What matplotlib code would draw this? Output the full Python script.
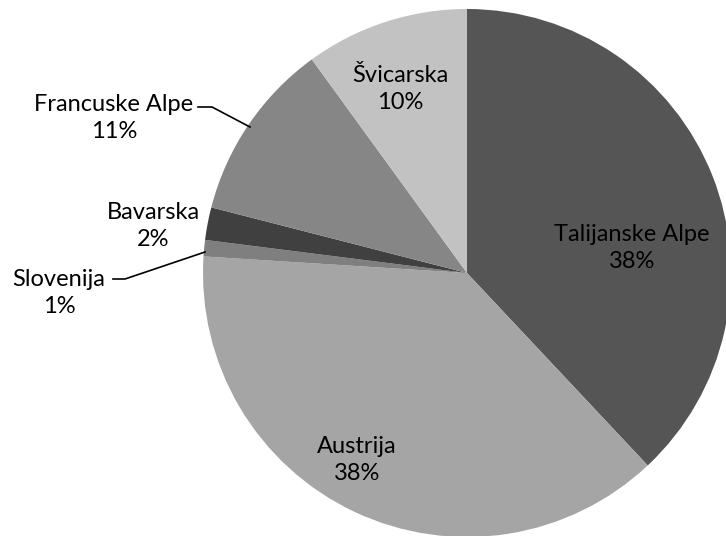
import matplotlib.pyplot as plt

# podaci
kategorije = ["Talijanske Alpe", "Austrija", "Slovenija", "Bavarska", "Francuske Alpe", "Švicarska"]
udjeli = [38, 38, 1, 2, 11, 10]
boje = ["#555555", "#a5a5a5", "#7f7f7f", "#404040", "#868686", "#c2c2c2"]

W, H = 726, 536
cx, cy, r = 467, 273, 264

plt.rcParams['font.family'] = ['Lato', 'DejaVu Sans']

fig = plt.figure(figsize=(W / 100, H / 100), dpi=100)
ax = fig.add_axes([(cx - r) / W, (H - cy - r) / H, 2 * r / W, 2 * r / H])
ax.pie(udjeli, colors=boje, startangle=90, counterclock=False, radius=1,
       wedgeprops=dict(linewidth=0))
ax.set_xlim(-1, 1)
ax.set_ylim(-1, 1)
ax.set_aspect('equal')
ax.axis('off')


def px(x, y):
    # piksel slike -> koordinate osi
    return (x - cx) / r, (cy - y) / r


# pozicije oznaka u pikselima
pozicije = [(632, 248), (357, 460), (59, 293), (153, 226), (114, 118), (400, 89)]
for ime, u, (x, y) in zip(kategorije, udjeli, pozicije):
    ax.text(*px(x, y), f"{ime}\n{u}%", ha='center', va='center',
            fontsize=17, color='black', linespacing=1.38)

# linije vodilice
for pts in [[(198, 107), (212, 107), (250, 127)],
            [(113, 279), (125, 279), (205, 252)]]:
    xs, ys = zip(*[px(*p) for p in pts])
    ax.plot(xs, ys, color='black', lw=1.2, clip_on=False)

fig.savefig("out.png", dpi=100)
